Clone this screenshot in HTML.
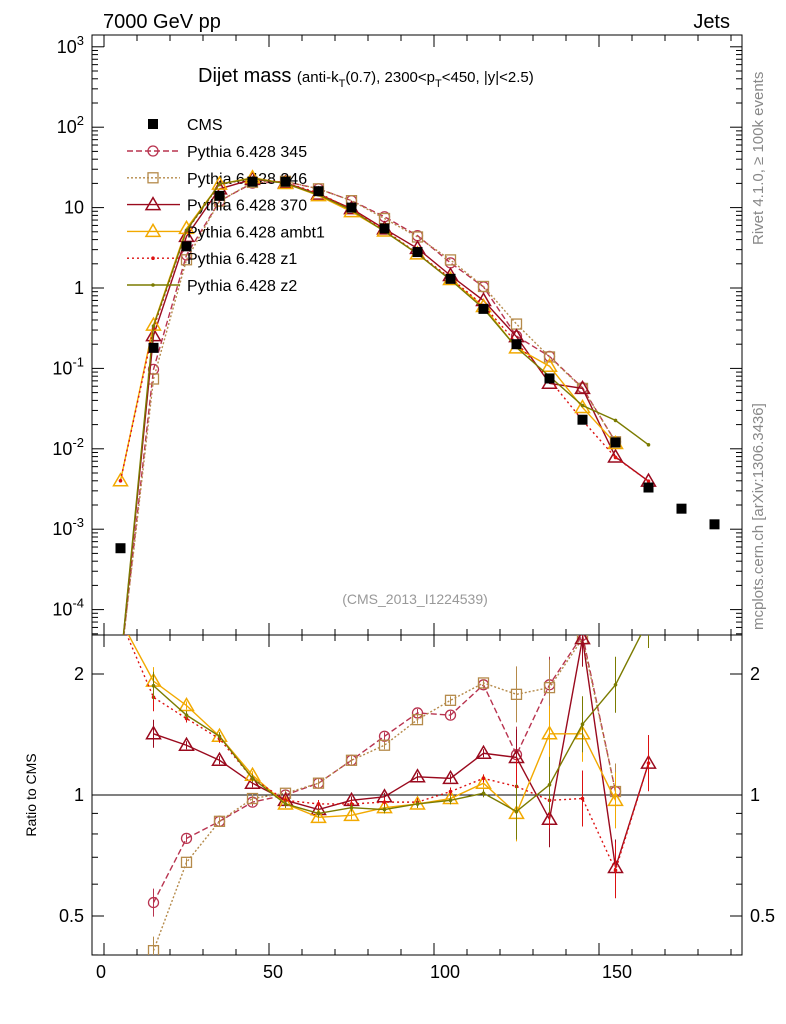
<!DOCTYPE html>
<html><head><meta charset="utf-8"><style>
body{margin:0;background:#fff;font-family:"Liberation Sans",sans-serif;overflow:hidden}
svg{display:block}
svg text{font-family:"Liberation Sans",sans-serif}
</style></head><body>
<svg id="c" width="786" height="1024" xmlns="http://www.w3.org/2000/svg">
<text x="103" y="28" font-size="20">7000 GeV pp</text>
<text x="730" y="28" font-size="20" text-anchor="end">Jets</text>
<text x="198" y="82" font-size="20">Dijet mass <tspan font-size="15">(anti-k</tspan><tspan font-size="11" dy="5">T</tspan><tspan font-size="15" dy="-5">(0.7), 2300&lt;p</tspan><tspan font-size="11" dy="5">T</tspan><tspan font-size="15" dy="-5">&lt;450, |y|&lt;2.5)</tspan></text>
<text x="415" y="604" font-size="14" fill="#999" text-anchor="middle">(CMS_2013_I1224539)</text>
<text transform="translate(763,245) rotate(-90)" font-size="15" fill="#888">Rivet 4.1.0, ≥ 100k events</text>
<text transform="translate(763,630) rotate(-90)" font-size="15" fill="#888">mcplots.cern.ch [arXiv:1306.3436]</text>
<text transform="translate(36,795) rotate(-90)" font-size="14" text-anchor="middle">Ratio to CMS</text>
</svg>
<script>
const xs=[5,15,25,35,45,55,65,75,85,95,105,115,125,135,145,155,165,175,185];
const cms=[5.8e-4,0.18,3.3,14,21,21,16,10,5.5,2.8,1.3,0.55,0.2,0.075,0.023,0.012,0.0033,0.0018,0.00115];
const r345=[0.017,0.54,0.78,0.86,0.96,1.0,1.07,1.22,1.4,1.6,1.58,1.88,1.26,1.88,2.5,1.02];
const r346=[0.017,0.41,0.68,0.86,0.98,1.01,1.07,1.22,1.33,1.54,1.72,1.9,1.78,1.85,2.45,1.02];
const r370=[0.017,1.42,1.33,1.22,1.07,0.97,0.92,0.97,0.99,1.11,1.1,1.27,1.24,0.87,2.45,0.66,1.2];
const rambt1=[6.9,1.92,1.67,1.4,1.12,0.95,0.88,0.89,0.93,0.95,0.98,1.07,0.9,1.42,1.42,0.97];
const rz1=[6.9,1.75,1.55,1.38,1.1,0.97,0.95,0.95,0.96,0.96,1.02,1.1,1.05,0.97,0.98,0.65,1.2];
const rz2=[0.017,1.87,1.58,1.4,1.1,0.95,0.9,0.93,0.92,0.95,0.97,1.01,0.91,1.06,1.5,1.88,3.4];
const xTicks=[0,50,100,150];
const yTicks=[-4,-3,-2,-1,0,1,2,3];
const yTickLabels=["10^-4","10^-3","10^-2","10^-1","1","10","10^2","10^3"];
const rTicks=[0.5,1,2];
const names=["Pythia 6.428 345","Pythia 6.428 346","Pythia 6.428 370","Pythia 6.428 ambt1","Pythia 6.428 z1","Pythia 6.428 z2"];
const svg=document.getElementById('c');const NS="http://www.w3.org/2000/svg";
const L=92,R=742,T=35,M=635,B=955;
const X=v=>104+v*3.3;
const XL=v=>101+v*3.44;
const Y=v=>Math.max(T-20,Math.min(M+30,288-Math.log10(v)*80.4));
const RY=v=>Math.max(M-15,Math.min(B+15,795-Math.log2(v)*121));
function el(t,a,p){const e=document.createElementNS(NS,t);for(const k in a)e.setAttribute(k,a[k]);(p||svg).appendChild(e);return e;}
const defs=el('defs',{});
const c1=el('clipPath',{id:'cm'},defs);el('rect',{x:L,y:T,width:R-L,height:M-T},c1);
const c2=el('clipPath',{id:'cr'},defs);el('rect',{x:L,y:M,width:R-L,height:B-M},c2);
let f=el('rect',{x:L,y:T,width:R-L,height:M-T,fill:'none',stroke:'#000','stroke-width':1});

f=el('rect',{x:L,y:M,width:R-L,height:B-M,fill:'none',stroke:'#000','stroke-width':1});

for(let v=0;v<=190;v+=10){const big=v%50===0;const x=X(v);if(x<L||x>R)continue;
 [[M,-1],[T,1],[B,-1]].forEach(([y,d])=>{el('line',{x1:x,x2:x,y1:y,y2:y+d*(big?12:6),stroke:'#000'});});
 el('line',{x1:x,x2:x,y1:M,y2:M+(big?12:6),stroke:'#000'});}
xTicks.forEach(v=>{const t=el('text',{x:XL(v),y:978,'font-size':18,'text-anchor':'middle'});t.textContent=v;
});
for(let d=-5;d<=3;d++)for(let m=1;m<10;m++){const y=288-d*80.4-Math.log10(m)*80.4;if(y<T||y>M)continue;const len=m===1?12:6;
 el('line',{x1:L,x2:L+len,y1:y,y2:y,stroke:'#000'});el('line',{x1:R,x2:R-len,y1:y,y2:y,stroke:'#000'});}
yTicks.forEach((d,i)=>{const y=288-d*80.4;const lab=yTickLabels[i];const t=el('text',{x:84,y:y+6,'font-size':18,'text-anchor':'end'});
 if(lab.startsWith('10^')){t.textContent='10';const s=el('tspan',{dy:-8,'font-size':13},t);s.textContent=lab.slice(3);}else t.textContent=lab;
 });
[0.4,0.5,0.6,0.7,0.8,0.9,1,2].forEach(v=>{const y=RY(v);const len=(v===0.5||v===1||v===2)?12:6;
 el('line',{x1:L,x2:L+len,y1:y,y2:y,stroke:'#000'});el('line',{x1:R,x2:R-len,y1:y,y2:y,stroke:'#000'});});
rTicks.forEach(v=>{const y=RY(v)+6;
 let t=el('text',{x:84,y:y,'font-size':18,'text-anchor':'end'});t.textContent=v;
 t=el('text',{x:750,y:y,'font-size':18});t.textContent=v;});
el('line',{x1:L,x2:R,y1:RY(1),y2:RY(1),stroke:'#000'});
const series=[
 {r:r345,c:'#b8334f',dash:'6,3',m:'circle'},
 {r:r346,c:'#b58a4a',dash:'2,2',m:'square'},
 {r:r370,c:'#9a0a1e',dash:'',m:'tri'},
 {r:rambt1,c:'#f2a900',dash:'',m:'tri'},
 {r:rz1,c:'#dd1111',dash:'2,3',m:'dot'},
 {r:rz2,c:'#7b7b00',dash:'',m:'dot'}];
function marker(g,m,x,y,c){
 if(m==='circle')el('circle',{cx:x,cy:y,r:5,fill:'none',stroke:c,'stroke-width':1.3},g);
 else if(m==='square')el('rect',{x:x-5,y:y-5,width:10,height:10,fill:'none',stroke:c,'stroke-width':1.3},g);
 else if(m==='tri')el('polygon',{points:`${x},${y-7} ${x-7},${y+5} ${x+7},${y+5}`,fill:'none',stroke:c,'stroke-width':1.5},g);
 else el('circle',{cx:x,cy:y,r:1.8,fill:c},g);}
series.forEach((s,k)=>{
 const gm=el('g',{'clip-path':'url(#cm)'});
 const gr=el('g',{'clip-path':'url(#cr)'});
 const pm=s.r.map((r,i)=>[X(xs[i]),Y(r*cms[i])]);
 const pr=s.r.map((r,i)=>[X(xs[i]),RY(r)]).filter((p,i)=>i>0||s.r[0]>0.1);
 el('polyline',{points:pm.map(p=>p.join(',')).join(' '),fill:'none',stroke:s.c,'stroke-width':1.4,'stroke-dasharray':s.dash},gm);
 el('polyline',{points:pr.map(p=>p.join(',')).join(' '),fill:'none',stroke:s.c,'stroke-width':1.4,'stroke-dasharray':s.dash},gr);
 pm.forEach((p,i)=>{if(i>0||s.r[0]>1){marker(gm,s.m,p[0],p[1],s.c);}});
 s.r.forEach((r,i)=>{if(i>0){const x=X(xs[i]),y=RY(r);const e=i>=12?28:(i===1?14:4);el('line',{x1:x,x2:x,y1:y-e,y2:Math.min(B,y+e),stroke:s.c},gr);marker(gr,s.m,x,y,s.c);}});
 const ly=151+k*26.8;const lg=el('g',{});
 el('line',{x1:127,x2:180,y1:ly,y2:ly,stroke:s.c,'stroke-width':1.4,'stroke-dasharray':s.dash},lg);
 marker(lg,s.m,153,ly,s.c);
 const t=el('text',{x:187,y:ly+6,'font-size':16},lg);t.textContent=names[k];});
const gc=el('g',{'clip-path':'url(#cm)'});
cms.forEach((v,i)=>{el('rect',{x:X(xs[i])-5,y:Y(v)-5,width:10,height:10,fill:'#000'},gc);});
const lg=el('g',{});
el('rect',{x:148,y:119,width:10,height:10,fill:'#000'},lg);
const t=el('text',{x:187,y:130,'font-size':16},lg);t.textContent='CMS';
</script>
</body></html>
